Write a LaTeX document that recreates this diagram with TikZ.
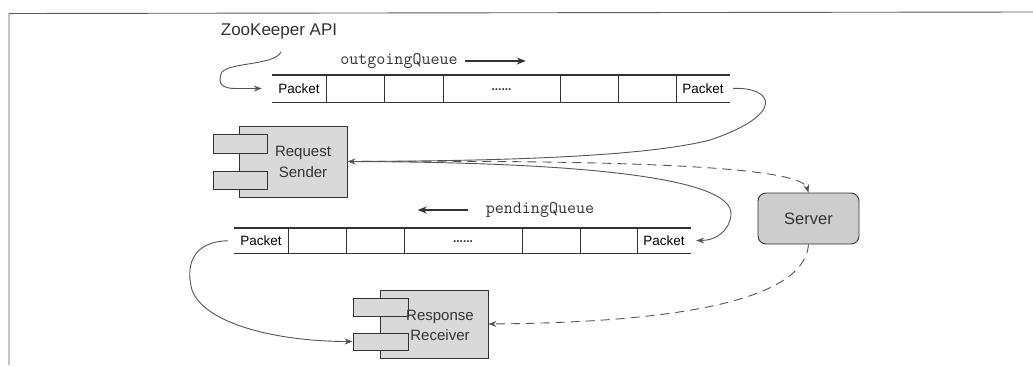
\documentclass[tikz,border=0pt]{standalone}
\usepackage{fontspec}
\setmainfont{Liberation Sans}
\usetikzlibrary{arrows.meta,calc}
\definecolor{ink}{HTML}{333333}
\definecolor{curve}{HTML}{555555}
\definecolor{boxfill}{HTML}{D9D9D9}
\definecolor{srvfill}{HTML}{CDCDCD}
\begin{document}
\begin{tikzpicture}[x=1pt,y=-1pt,
  qcell/.style={minimum width=#1, minimum height=27pt, inner sep=0pt, font=\fontsize{13.5}{15}\selectfont},
  lcell/.style={minimum width=#1, minimum height=25pt, inner sep=0pt, font=\fontsize{13.5}{15}\selectfont},
  qline/.style={draw=ink, line width=1.4pt},
  divline/.style={draw=ink, line width=1pt},
  comp/.style={draw=ink, fill=boxfill, line width=0.9pt, inner sep=0pt},
  ptr/.style={draw=curve, line width=0.9pt, -{Stealth[length=8pt,width=6pt]}},
  dashptr/.style={ptr, dash pattern=on 9pt off 6pt},
  qarrow/.style={draw=ink, line width=1.3pt, -{Stealth[length=9pt,width=7pt]}},
  qlabel/.style={inner sep=0pt, font=\ttfamily\fontsize{17.5}{19}\selectfont, text=ink},
  boxtext/.style={align=center, inner sep=0pt, font=\fontsize{15}{20.5}\selectfont, text=ink},
  dots/.style={inner sep=0pt, font=\bfseries\fontsize{12}{12}\selectfont, text=ink}
]
\useasboundingbox[fill=white] (0,0) rectangle (1033,365);
% frame of the scanned figure
\draw[ink!80, line width=0.9pt] (9,365) -- (9,13.5) -- (1033,12);

% title
\node[inner sep=0pt, font=\fontsize{17}{19}\selectfont, text=ink] (zk) at (279,31) {ZooKeeper API};

% outgoing queue
\node[qlabel] (oq) at (399,61) {outgoingQueue};
\coordinate (oqa) at ($(oq.east)+(7,0)$);
\coordinate (oqb) at ($(oq.east)+(68,0)$);
\draw[qarrow] (oqa) -- (oqb);

\node[qcell=54pt] (op1) at (299,88.5) {Packet};
\node[qcell=58pt] (op2) at (355,88.5) {};
\node[qcell=59pt] (op3) at (413.5,88.5) {};
\node[qcell=117pt] (op4) at (501.5,88.5) {};
\node[dots] at ([yshift=-1pt]op4.center) {......};
\node[qcell=58pt] (op5) at (589,88.5) {};
\node[qcell=58pt] (op6) at (647,88.5) {};
\node[qcell=54pt] (op7) at (703,88.5) {Packet};
\draw[qline] (op1.north west) -- (op7.north east);
\draw[qline] (op1.south west) -- (op7.south east);
\foreach \c in {op1,op2,op3,op4,op5,op6}
  \draw[divline] (\c.north east) -- (\c.south east);

% pending queue
\node[qlabel] (pq) at (540,210) {pendingQueue};
\coordinate (pqa) at ($(pq.west)+(-18,0)$);
\coordinate (pqb) at ($(pq.west)+(-68,0)$);
\draw[qarrow] (pqa) -- (pqb);

\node[lcell=54pt] (pp1) at (261,240.5) {Packet};
\node[lcell=58pt] (pp2) at (317,240.5) {};
\node[lcell=58pt] (pp3) at (375,240.5) {};
\node[lcell=118pt] (pp4) at (463,240.5) {};
\node[dots] at ([yshift=-1pt]pp4.center) {......};
\node[lcell=58pt] (pp5) at (551,240.5) {};
\node[lcell=57pt] (pp6) at (608.5,240.5) {};
\node[lcell=54pt] (pp7) at (664,240.5) {Packet};
\draw[qline] (pp1.north west) -- (pp7.north east);
\draw[qline] (pp1.south west) -- (pp7.south east);
\foreach \c in {pp1,pp2,pp3,pp4,pp5,pp6}
  \draw[divline] (\c.north east) -- (\c.south east);

% Request Sender component
\node[comp, minimum width=108pt, minimum height=71pt] (rs) at (293,161.5) {};
\node[comp, minimum width=54pt, minimum height=19pt] (rsa) at (240,143.5) {};
\node[comp, minimum width=54pt, minimum height=18pt] (rsb) at (240,180) {};
\node[boxtext] (rst) at (303,162) {Request\\Sender};

% Response Receiver component
\node[comp, minimum width=108pt, minimum height=68pt] (rr) at (434,324) {};
\node[comp, minimum width=55pt, minimum height=18pt] (rra) at (380.5,307) {};
\node[comp, minimum width=55pt, minimum height=17pt] (rrb) at (380.5,341.5) {};
\node[boxtext] (rrt) at (440,325.5) {Response\\Receiver};

% Server
\node[draw=ink, fill=srvfill, line width=0.9pt, rounded corners=8pt,
      minimum width=101pt, minimum height=51pt, inner sep=0pt,
      font=\fontsize{16.5}{18}\selectfont, text=ink] (srv) at (808.5,218.5) {Server};

% connectors
\draw[ptr, shorten >=10pt] ($(zk.south)+(2,13)$) .. controls (275,66) and (224,62) .. (221,74)
      .. controls (218,84) and (222,88.5) .. (236,88.5) -- (op1.west);
\draw[ptr, shorten <=3pt] (op7.east) .. controls (775,87) and (785,115) .. (710,140)
      .. controls (640,158) and (480,161) .. (rs.east);
\draw[dashptr] (rs.east) .. controls (600,160) and (800,165) .. (srv.north);
\draw[ptr, shorten >=5pt] (rs.east) .. controls (560,162) and (735,175) .. (731,215)
      .. controls (729,232) and (715,240.5) .. (pp7.east);
\draw[ptr, shorten <=6pt] (pp1.west) .. controls (190,242) and (186,268) .. (192,290)
      .. controls (205,325) and (280,341.5) .. (rrb.west);
\draw[dashptr] (srv.south) .. controls (805,290) and (720,322) .. (rr.east);
\end{tikzpicture}
\end{document}
